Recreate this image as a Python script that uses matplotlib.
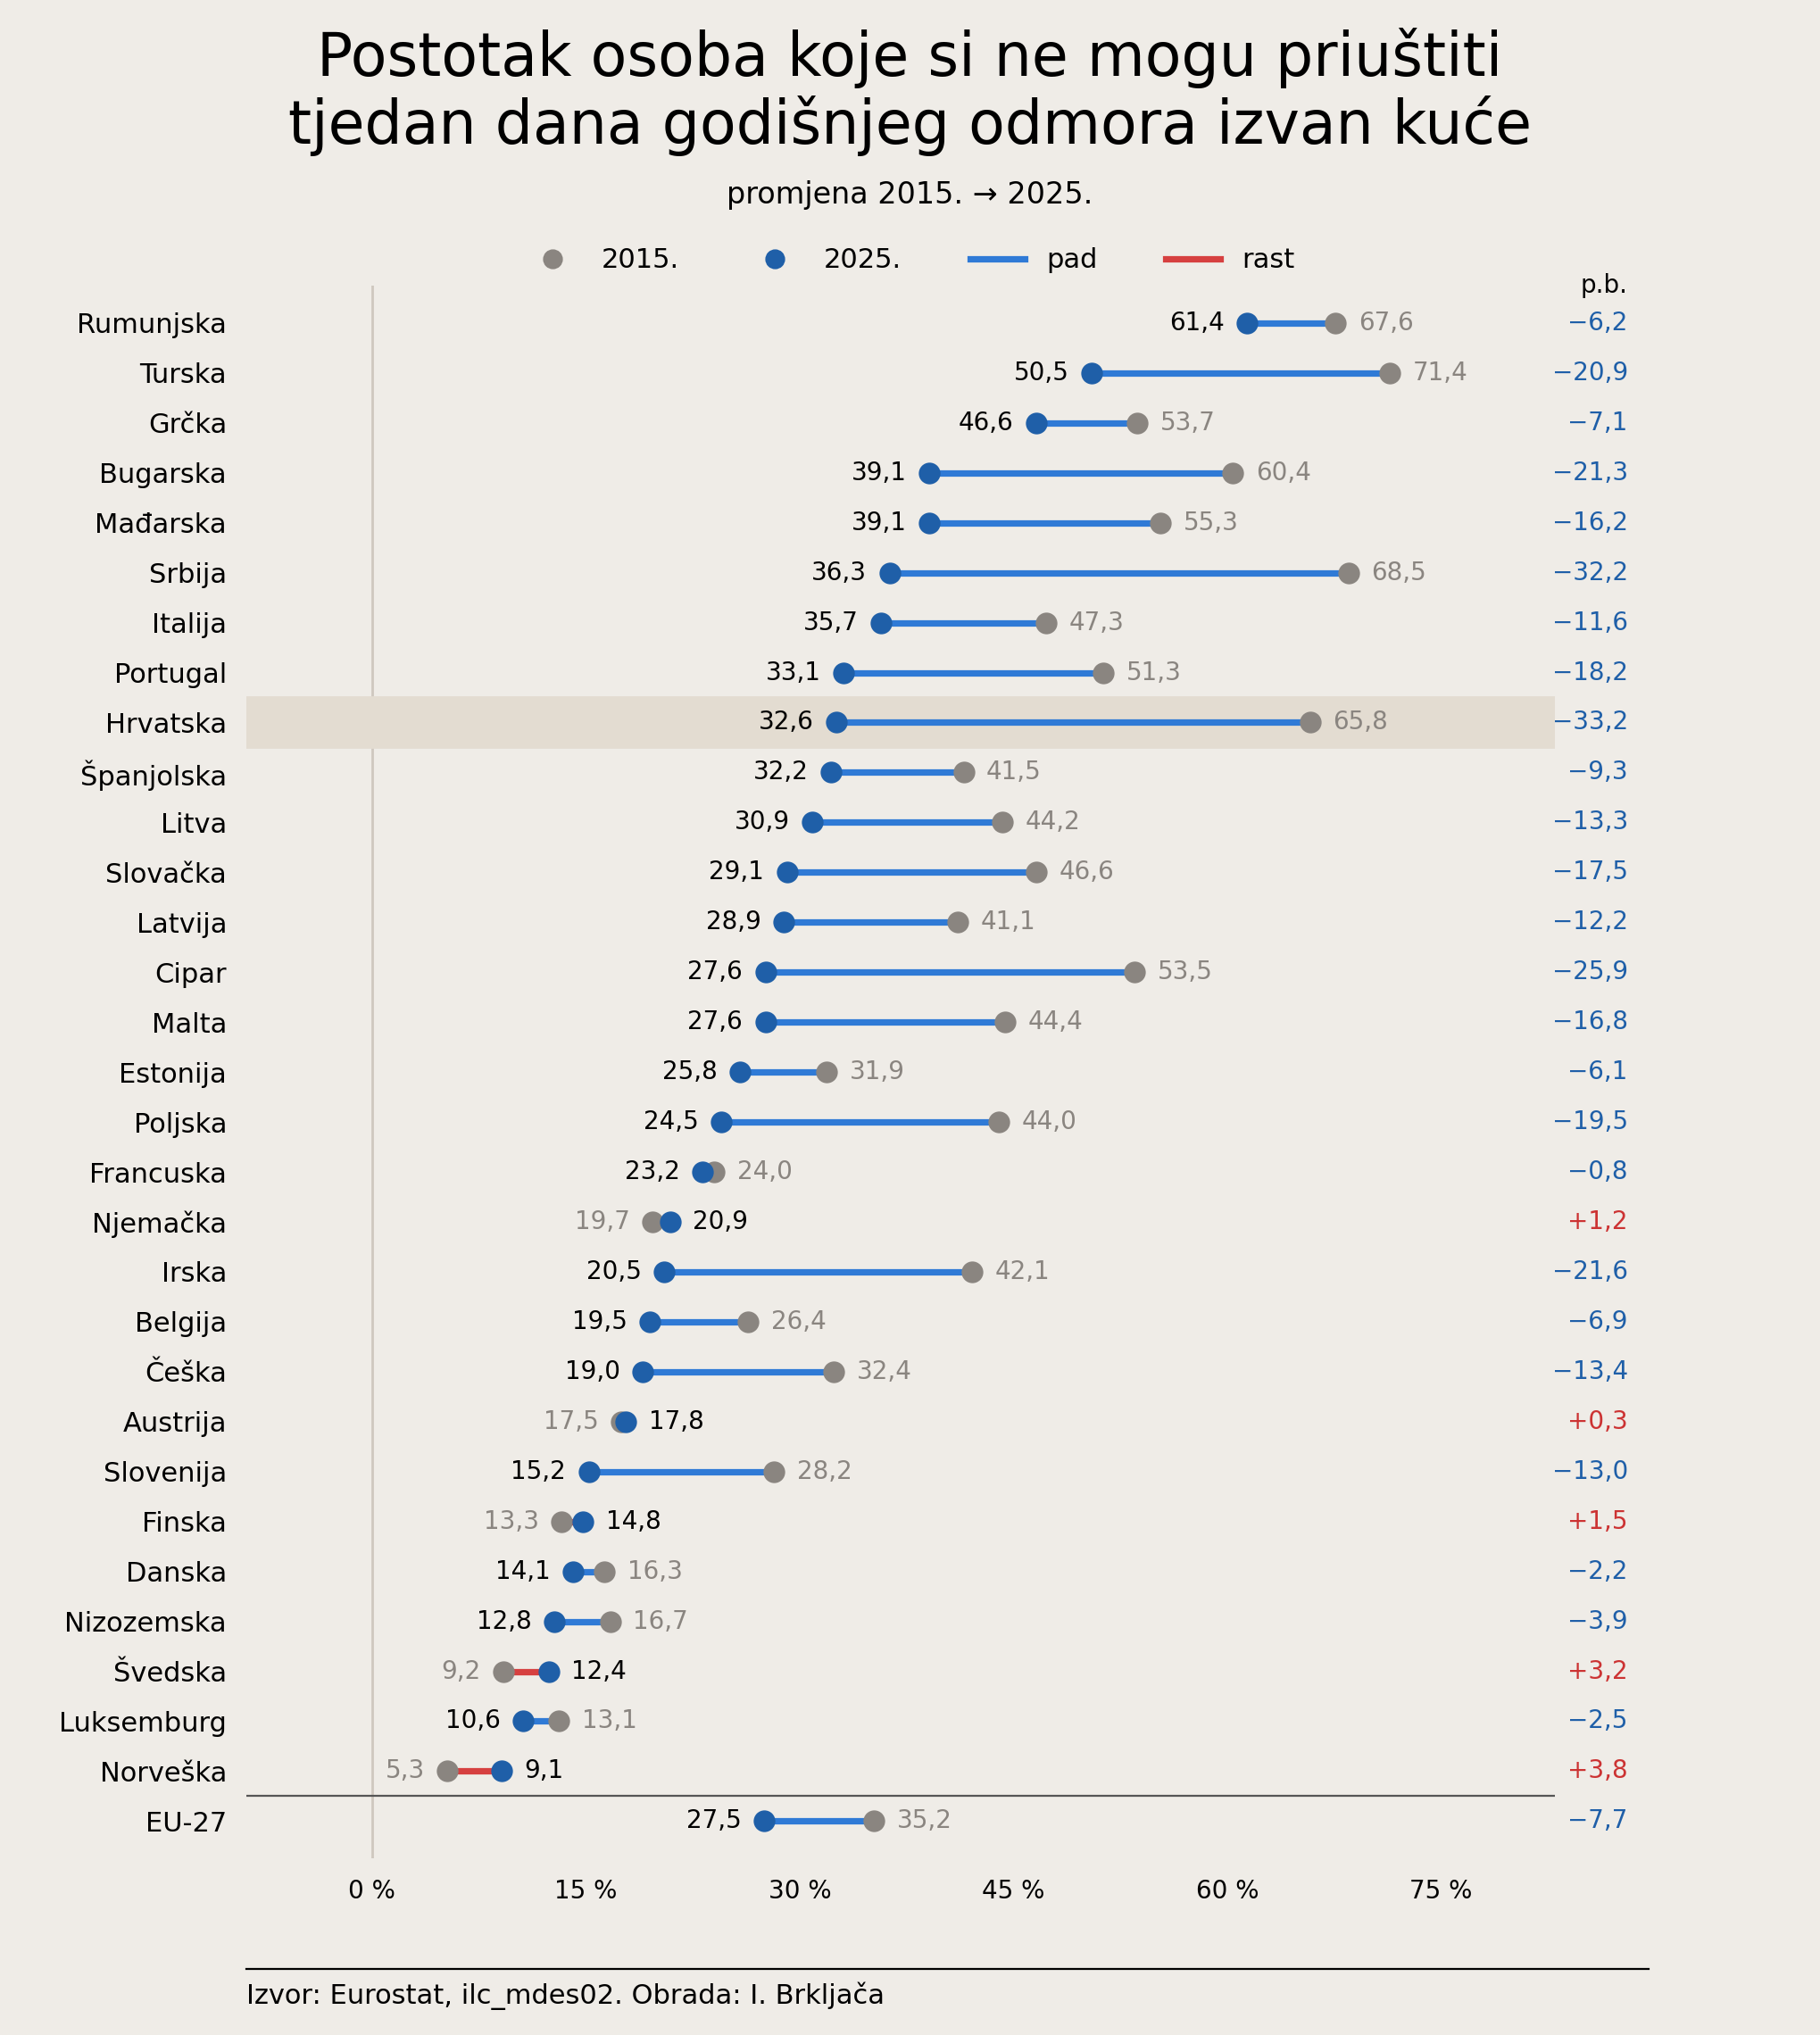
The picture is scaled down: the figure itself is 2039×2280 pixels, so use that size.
import matplotlib
matplotlib.use("Agg")
import matplotlib.pyplot as plt
from matplotlib.lines import Line2D

countries = ["Rumunjska","Turska","Grčka","Bugarska","Mađarska","Srbija","Italija","Portugal","Hrvatska",
             "Španjolska","Litva","Slovačka","Latvija","Cipar","Malta","Estonija","Poljska","Francuska",
             "Njemačka","Irska","Belgija","Češka","Austrija","Slovenija","Finska","Danska","Nizozemska",
             "Švedska","Luksemburg","Norveška","EU-27"]
v2015 = [67.6,71.4,53.7,60.4,55.3,68.5,47.3,51.3,65.8,41.5,44.2,46.6,41.1,53.5,44.4,31.9,44.0,24.0,
         19.7,42.1,26.4,32.4,17.5,28.2,13.3,16.3,16.7,9.2,13.1,5.3,35.2]
v2025 = [61.4,50.5,46.6,39.1,39.1,36.3,35.7,33.1,32.6,32.2,30.9,29.1,28.9,27.6,27.6,25.8,24.5,23.2,
         20.9,20.5,19.5,19.0,17.8,15.2,14.8,14.1,12.8,12.4,10.6,9.1,27.5]
xticks = [0,15,30,45,60,75]

BG = "#efece7"; GREY = "#8a8580"; BLUE = "#1f5fa8"; LBLUE = "#2f7ad6"; RED = "#d64040"
def f(v): return f"{v:.1f}".replace(".", ",")

fig = plt.figure(figsize=(10.195, 11.4), dpi=200, facecolor=BG)
ax = fig.add_axes([0.1355, 0.0867, 0.719, 0.773], facecolor=BG)
ax.set_xlim(-8.8, 83.0)
ax.set_ylim(30.75, -0.75)
for s in ax.spines.values(): s.set_visible(False)
ax.axvline(0, color="#cfc8bf", lw=1, zorder=0)
ax.axhspan(7.5, 8.5, color="#e3dcd1", zorder=0)
ax.axhline(29.5, color="#555555", lw=0.8)

for i, (c, a, b) in enumerate(zip(countries, v2015, v2025)):
    d = b - a
    ax.plot([a, b], [i, i], color=(RED if d > 0 else LBLUE), lw=2.6, zorder=2, solid_capstyle="butt")
    ax.scatter([a], [i], s=60, color=GREY, zorder=3)
    ax.scatter([b], [i], s=60, color=BLUE, zorder=4)
    off = 1.6
    if d <= 0:
        ax.text(b - off, i, f(b), ha="right", va="center", fontsize=10, color="black")
        ax.text(a + off, i, f(a), ha="left", va="center", fontsize=10, color=GREY)
    else:
        ax.text(a - off, i, f(a), ha="right", va="center", fontsize=10, color=GREY)
        ax.text(b + off, i, f(b), ha="left", va="center", fontsize=10, color="black")
    sign = "+" if d > 0 else "\u2212"
    ax.text(88.1, i, f"{sign}{f(abs(d))}", ha="right", va="center", fontsize=10,
            color=("#cc3333" if d > 0 else BLUE), clip_on=False)
ax.text(88.1, -0.75, "p.b.", ha="right", va="center", fontsize=10, color="black", clip_on=False)

ax.set_yticks(range(len(countries)))
ax.set_yticklabels(countries, fontsize=11)
ax.set_xticks(xticks)
ax.set_xticklabels([f"{t} %" for t in xticks], fontsize=10)
ax.tick_params(length=0, pad=8)
ax.tick_params(axis="y", pad=8)

fig.text(0.5, 0.955, "Postotak osoba koje si ne mogu priuštiti\ntjedan dana godišnjeg odmora izvan kuće",
         ha="center", va="center", fontsize=24, linespacing=1.15)
fig.text(0.5, 0.904, "promjena 2015. \u2192 2025.", ha="center", va="center", fontsize=12)
handles = [Line2D([], [], marker="o", ls="", color=GREY, markersize=7),
           Line2D([], [], marker="o", ls="", color=BLUE, markersize=7),
           Line2D([], [], color=LBLUE, lw=2.6), Line2D([], [], color=RED, lw=2.6)]
fig.legend(handles, ["2015.", "2025.", "pad", "rast"], loc="center", bbox_to_anchor=(0.5, 0.872),
           ncol=4, frameon=False, fontsize=11, columnspacing=2.5, handlelength=2)
fig.add_artist(Line2D([0.1355, 0.906], [0.0325, 0.0325], color="black", lw=0.8))
fig.text(0.1355, 0.019, "Izvor: Eurostat, ilc_mdes02. Obrada: I. Brkljača", ha="left", va="center", fontsize=11)
fig.savefig("out.png", dpi=200, facecolor=BG)
